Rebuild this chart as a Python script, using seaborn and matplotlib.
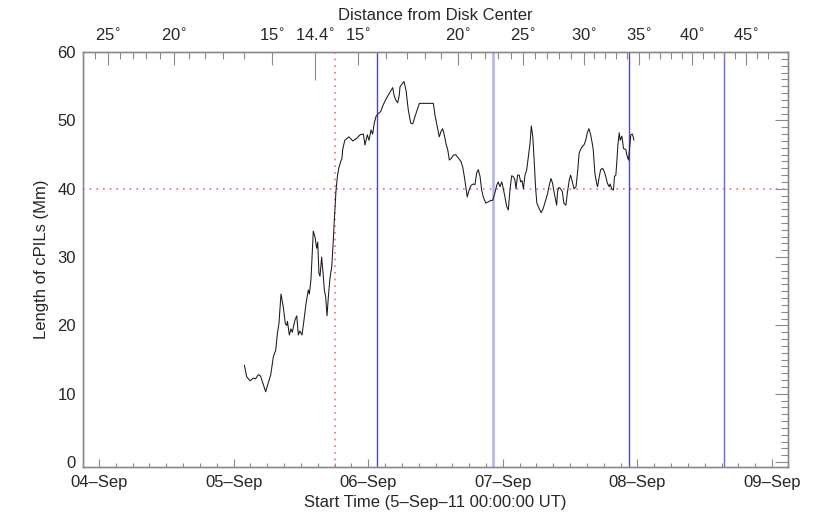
import numpy as np
import pandas as pd
import matplotlib
matplotlib.use("Agg")
import matplotlib.pyplot as plt
import seaborn as sns
from matplotlib.ticker import MultipleLocator, FixedLocator

# ---------------- data (time in days since 5-Sep-11 00:00 UT) ----------------
days = [0.080, 0.097, 0.122, 0.146, 0.164, 0.183, 0.200, 0.238, 0.276, 0.295,
        0.313, 0.325, 0.337, 0.352, 0.369, 0.384, 0.394, 0.400, 0.414, 0.426,
        0.436, 0.456, 0.469, 0.481, 0.492, 0.508, 0.523, 0.538, 0.555, 0.563,
        0.575, 0.592, 0.605, 0.617, 0.625, 0.634, 0.642, 0.654, 0.667, 0.674,
        0.684, 0.694, 0.704, 0.716, 0.729, 0.741, 0.748, 0.761, 0.771, 0.781,
        0.796, 0.805, 0.810, 0.826, 0.856, 0.886, 0.916, 0.939, 0.964, 0.976,
        0.993, 1.006, 1.021, 1.033, 1.045, 1.058, 1.075, 1.093, 1.112, 1.132,
        1.149, 1.167, 1.182, 1.192, 1.204, 1.219, 1.231, 1.236, 1.251, 1.266,
        1.281, 1.298, 1.316, 1.331, 1.348, 1.365, 1.380, 1.484, 1.496, 1.513,
        1.528, 1.541, 1.553, 1.565, 1.578, 1.591, 1.603, 1.615, 1.632, 1.650,
        1.669, 1.689, 1.702, 1.714, 1.727, 1.736, 1.749, 1.764, 1.781, 1.793,
        1.806, 1.818, 1.831, 1.843, 1.855, 1.873, 1.893, 1.910, 1.925, 1.940,
        1.955, 1.966, 1.979, 1.992, 2.004, 2.016, 2.029, 2.041, 2.053, 2.066,
        2.078, 2.090, 2.098, 2.110, 2.122, 2.133, 2.143, 2.153, 2.165, 2.177,
        2.190, 2.202, 2.212, 2.223, 2.233, 2.243, 2.253, 2.270, 2.285, 2.300,
        2.318, 2.333, 2.345, 2.358, 2.370, 2.380, 2.393, 2.400, 2.407, 2.417,
        2.429, 2.442, 2.454, 2.469, 2.479, 2.494, 2.504, 2.517, 2.529, 2.544,
        2.557, 2.567, 2.579, 2.591, 2.603, 2.616, 2.628, 2.640, 2.653, 2.665,
        2.672, 2.684, 2.697, 2.704, 2.717, 2.727, 2.742, 2.754, 2.765, 2.777,
        2.790, 2.797, 2.810, 2.822, 2.830, 2.840, 2.848, 2.855, 2.865, 2.872,
        2.885, 2.897, 2.915, 2.922, 2.934, 2.941, 2.951, 2.963, 2.975]
length_mm = [14.2, 12.5, 11.9, 12.3, 12.2, 12.8, 12.6, 10.3, 12.8, 15.4,
             16.4, 18.8, 20.3, 24.6, 22.7, 20.3, 20.0, 20.6, 18.6, 19.5,
             19.0, 20.8, 21.4, 18.6, 19.2, 18.6, 20.8, 23.2, 25.2, 24.6,
             26.8, 33.8, 32.9, 31.3, 32.2, 27.6, 27.2, 30.0, 27.1, 25.2,
             24.2, 21.4, 24.2, 26.9, 28.6, 32.5, 35.4, 39.8, 41.8, 43.0,
             44.0, 44.4, 45.7, 47.1, 47.6, 47.0, 47.4, 47.9, 48.0, 46.4,
             47.9, 47.1, 48.6, 48.0, 49.6, 50.6, 51.0, 51.3, 52.3, 53.1,
             53.7, 54.3, 54.8, 53.7, 53.0, 52.6, 53.7, 54.9, 55.3, 55.7,
             54.4, 51.5, 49.6, 49.5, 50.6, 51.6, 52.5, 52.5, 50.8, 49.1,
             47.6, 48.4, 48.8, 47.9, 46.6, 45.7, 44.2, 44.4, 44.9, 45.0,
             44.5, 44.0, 43.2, 41.8, 40.0, 38.8, 39.8, 40.5, 40.7, 40.6,
             42.3, 42.8, 41.8, 39.8, 38.8, 37.9, 38.1, 38.3, 38.3, 39.3,
             40.5, 41.0, 40.3, 41.0, 40.0, 38.8, 37.4, 36.9, 39.8, 41.9,
             41.8, 41.3, 40.0, 42.0, 42.0, 41.0, 41.2, 40.0, 42.0, 42.7,
             44.7, 46.6, 49.2, 47.6, 44.2, 40.3, 37.9, 37.1, 36.5, 37.1,
             38.3, 39.3, 40.5, 41.5, 40.8, 39.6, 38.3, 37.6, 39.6, 40.2,
             40.0, 39.6, 37.9, 37.6, 39.3, 41.3, 42.0, 41.0, 40.0, 40.3,
             42.7, 45.2, 45.8, 46.2, 46.4, 47.1, 48.2, 48.8, 47.9, 46.6,
             45.7, 42.3, 40.8, 40.3, 41.8, 42.8, 43.0, 42.5, 41.8, 40.8,
             40.3, 40.7, 40.0, 39.8, 41.8, 42.0, 44.2, 46.4, 48.2, 47.1,
             47.7, 45.9, 45.7, 44.9, 44.2, 45.7, 47.9, 48.0, 47.1]

date_ticks = [-1, 0, 1, 2, 3, 4]
date_labels = ["04\u2013Sep", "05\u2013Sep", "06\u2013Sep", "07\u2013Sep", "08\u2013Sep", "09\u2013Sep"]

# top axis: angular distance from disk centre
angle_ticks = [-0.933, -0.443, 0.285, 0.605, 0.924, 1.667, 2.150, 2.603, 3.012, 3.406, 3.807]
angle_labels = ["25", "20", "15", "14.4", "15", "20", "25", "30", "35", "40", "45"]
angle_minor = [-1.030, -0.844, -0.747, -0.651, -0.547, -0.331, -0.212, -0.079, 0.077,
               1.132, 1.288, 1.422, 1.541, 1.764, 1.868, 1.964, 2.061, 2.239, 2.328,
               2.417, 2.507, 2.678, 2.759, 2.841, 2.923, 3.086, 3.168, 3.249, 3.331,
               3.487, 3.569, 3.643, 3.725, 3.889, 3.971]

ref_length = 40.0
ref_time = 0.753
event_times = [1.065, 1.927, 2.938, 3.645]
event_colors = ["#4a4ad0", "#aeaeff", "#4a4ad0", "#6464f0"]
event_widths = [1.0, 1.8, 1.0, 1.0]

# ---------------- style ----------------
sns.set_style("white")
plt.rcParams["font.family"] = ["Liberation Sans", "DejaVu Sans"]
plt.rcParams["font.size"] = 12
axis_gray = "#8a8a8a"

fig = plt.figure(figsize=(8.30, 5.19), dpi=100)
ax = fig.add_axes([0.1, 0.1, 0.8494, 0.7996])

df = pd.DataFrame({"days": days, "length": length_mm})

red = "#ff6a6a"
ax.axhline(ref_length, color=red, lw=1.2, ls=(0, (1, 3)), zorder=1)
ax.axvline(ref_time, color=red, lw=1.2, ls=(0, (1, 3)), zorder=1)
for t, c, w in zip(event_times, event_colors, event_widths):
    ax.axvline(t, color=c, lw=w, zorder=2)

sns.lineplot(data=df, x="days", y="length", ax=ax, color="#1a1a1a", lw=0.75,
             sort=False, estimator=None, zorder=3)

ax.set_xlim(-1.119, 4.119)
ax.set_ylim(-0.73, 60)
ax.set_xticks(date_ticks)
ax.set_xticklabels(date_labels)
ax.xaxis.set_minor_locator(MultipleLocator(0.125))
ax.yaxis.set_major_locator(MultipleLocator(10))
ax.yaxis.set_minor_locator(MultipleLocator(1))
ax.set_xlabel("Start Time (5\u2013Sep\u201311 00:00:00 UT)", fontsize=12, labelpad=3)
ax.set_ylabel("Length of cPILs (Mm)", fontsize=12, labelpad=6)

ax.tick_params(axis="x", which="major", direction="in", length=5.8, width=0.8,
               color=axis_gray, labelsize=12, pad=6, top=False)
ax.tick_params(axis="x", which="minor", direction="in", length=2.9, width=0.8,
               color=axis_gray, top=False)
ax.tick_params(axis="y", which="major", direction="in", length=9.4, width=0.8,
               color=axis_gray, labelsize=12, pad=5, right=True)
ax.tick_params(axis="y", which="minor", direction="in", length=5, width=0.8,
               color=axis_gray, right=True)
for s in ax.spines.values():
    s.set_color(axis_gray)
    s.set_linewidth(1.0)

# ---------------- top axis ----------------
ax2 = ax.twiny()
ax2.set_xlim(ax.get_xlim())
ax2.xaxis.set_major_locator(FixedLocator(angle_ticks))
ax2.xaxis.set_minor_locator(FixedLocator(angle_minor))
ax2.set_xticklabels([lab + r"$^{\circ}$" for lab in angle_labels])
ax2.tick_params(axis="x", which="major", direction="in", length=9.4, width=0.8,
                color=axis_gray, labelsize=12, pad=6)
ax2.tick_params(axis="x", which="minor", direction="in", length=5, width=0.8,
                color=axis_gray)
ax2.set_xlabel("Distance from Disk Center", fontsize=12, labelpad=5)
for s in ax2.spines.values():
    s.set_color(axis_gray)
    s.set_linewidth(1.0)
ax2.grid(False)
ax.grid(False)
# longer tick marking the minimum distance (14.4 deg)
ax2.xaxis.get_major_ticks()[3].tick2line.set_markersize(20)

fig.savefig("out.png", dpi=100)
